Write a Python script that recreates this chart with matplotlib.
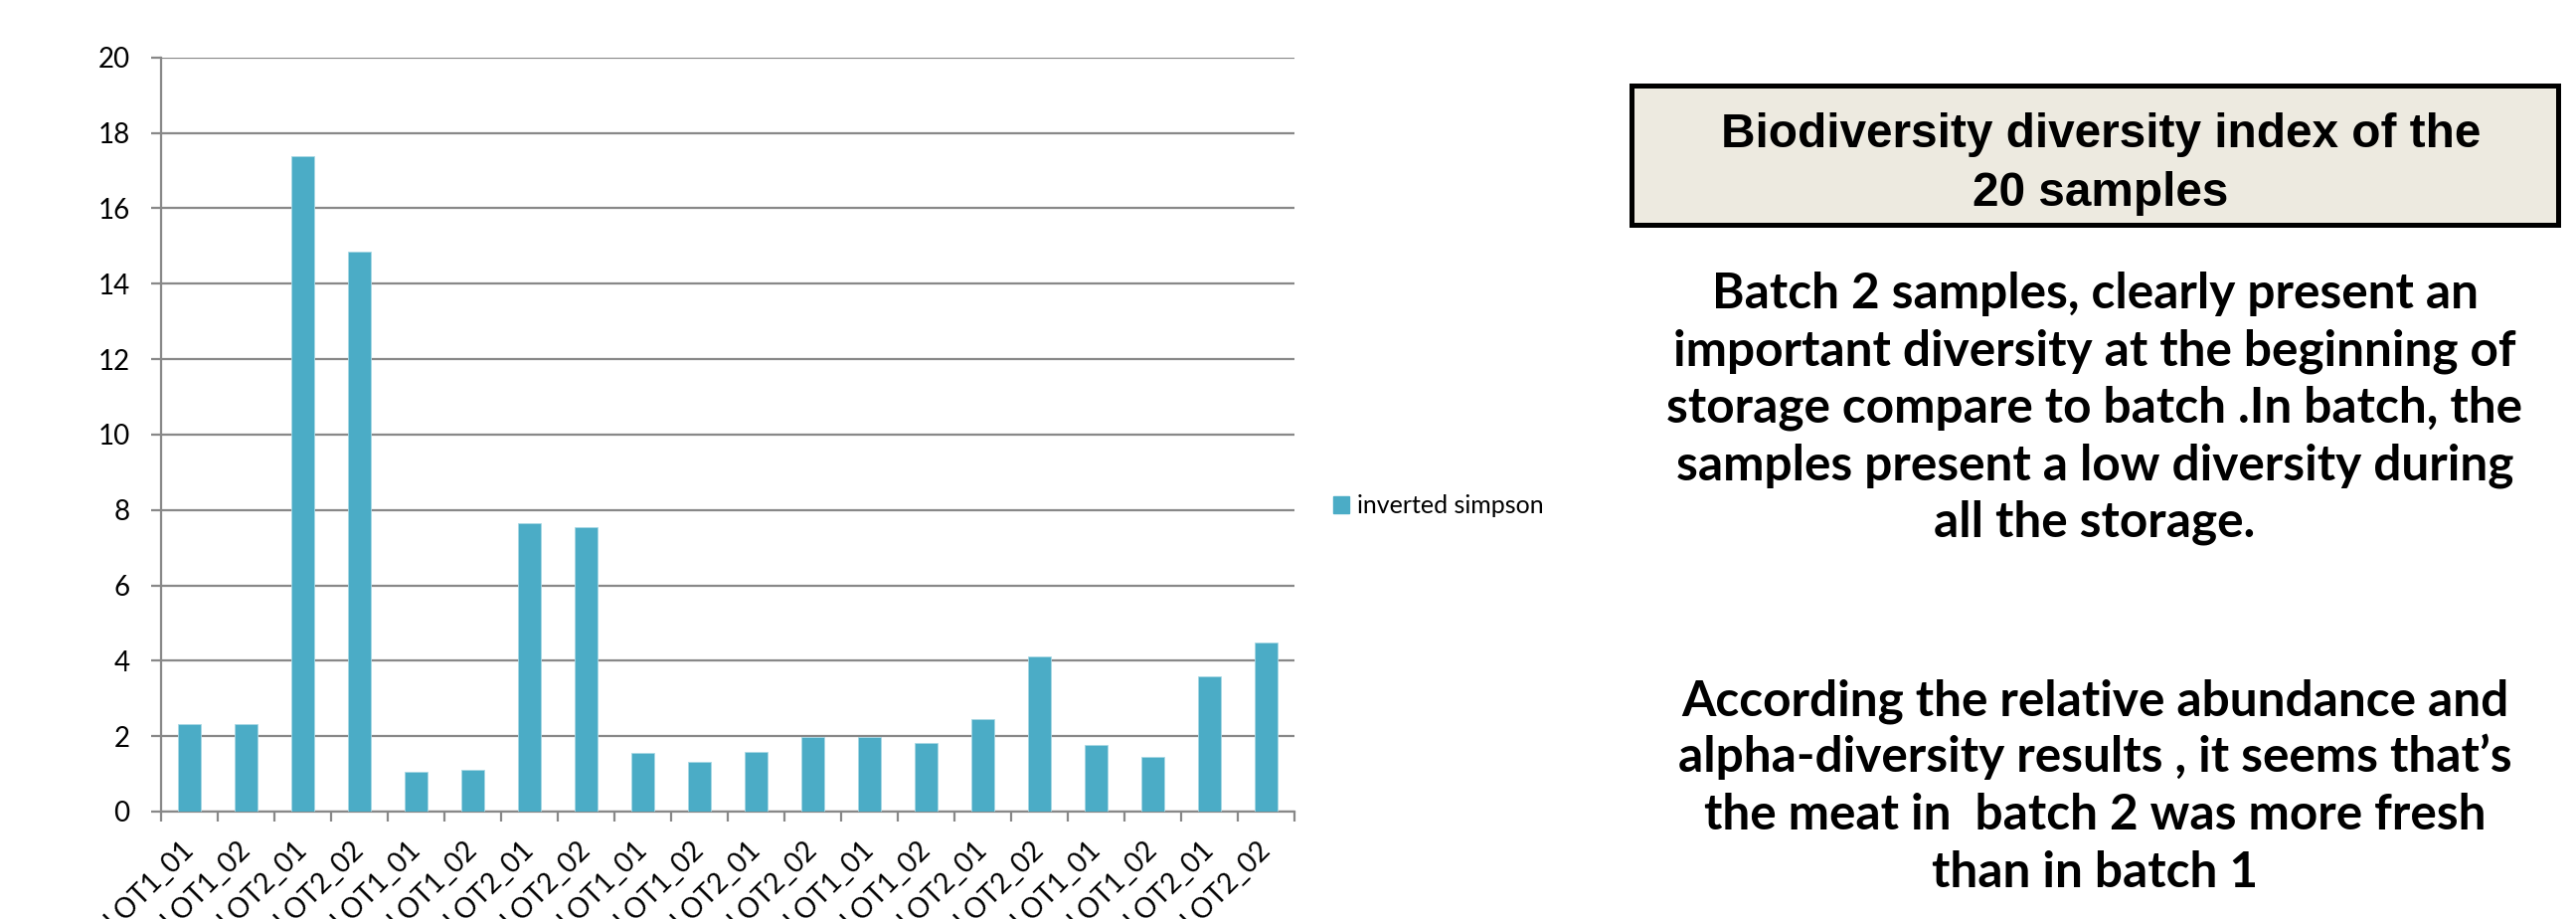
import matplotlib
matplotlib.use('Agg')
import matplotlib.pyplot as plt
from matplotlib.patches import Rectangle, Patch
import numpy as np

# ---------------- data ----------------
samples = ["LOT1_01", "LOT1_02", "LOT2_01", "LOT2_02"] * 5
inverted_simpson = [2.31, 2.31, 17.37, 14.84, 1.06, 1.11, 7.66, 7.55, 1.56, 1.31,
                    1.58, 1.98, 1.99, 1.82, 2.46, 4.12, 1.78, 1.45, 3.60, 4.48]
y_ticks = list(range(0, 21, 2))
series_name = "inverted simpson"

title_lines = ["Biodiversity diversity index of the", "20 samples"]
body_par1 = ["Batch 2 samples, clearly present an",
             "important diversity at the beginning of",
             "storage compare to batch .In batch, the",
             "samples present a low diversity during",
             "all the storage."]
body_par2 = ["According the relative abundance and",
             "alpha-diversity results , it seems that\u2019s",
             "the meat in  batch 2 was more fresh",
             "than in batch 1"]

# ---------------- figure ----------------
plt.rcParams['font.family'] = ['Lato', 'DejaVu Sans']
W, H = 2591, 924
DPI = 100
fig = plt.figure(figsize=(W / DPI, H / DPI), dpi=DPI)
fig.patch.set_facecolor('white')

def fx(px):
    return px / W

def fy(py):
    return 1 - py / H

GRID = '#888888'
BAR = '#4BACC6'

ax = fig.add_axes([fx(161.7), fy(816), fx(1302) - fx(161.7), fy(57.7) - fy(816)])
x = np.arange(len(samples))
ax.bar(x, inverted_simpson, width=0.4, color=BAR, edgecolor='#a8d8e4',
       linewidth=0.6, zorder=3, label=series_name)
ax.set_xlim(-0.5, len(samples) - 0.5)
ax.set_ylim(0, 20)
ax.set_yticks(y_ticks)
ax.yaxis.grid(True, color=GRID, linewidth=1.6, zorder=0)
ax.set_axisbelow(True)
for s in ['top', 'right']:
    ax.spines[s].set_visible(False)
for s in ['left', 'bottom']:
    ax.spines[s].set_color(GRID)
    ax.spines[s].set_linewidth(1.6)
ax.tick_params(axis='y', direction='out', length=7.5, width=1.6, color=GRID,
               labelsize=20, pad=15, labelcolor='black')
ax.set_xticks(x)
ax.set_xticklabels(samples, rotation=45, ha='right', va='center',
                   rotation_mode='anchor', fontsize=20)
ax.tick_params(axis='x', which='major', length=0, pad=24)
ax.set_xticks(np.arange(-0.5, len(samples), 1), minor=True)
ax.tick_params(axis='x', which='minor', direction='out', length=7.5, width=1.6, color=GRID)

fig.legend(handles=[Patch(facecolor=BAR, edgecolor=BAR)], labels=[series_name],
           loc='center left', bbox_to_anchor=(fx(1341), fy(509)), frameon=False,
           fontsize=18, handlelength=0.64, handleheight=0.64, handletextpad=0.33,
           borderpad=0, borderaxespad=0)

# ---------------- right panel ----------------
fig.patches.append(Rectangle((fx(1640.5), fy(225.5)), fx(2572.5) - fx(1640.5),
                             fy(86.5) - fy(225.5), transform=fig.transFigure,
                             facecolor='#EDEAE0', edgecolor='black', linewidth=3.6,
                             zorder=1))

renderer = fig.canvas.get_renderer()

def fit(txt, target_px):
    w = txt.get_window_extent(renderer).width
    txt.set_fontsize(txt.get_fontsize() * target_px / w)
    return txt.get_fontsize()

t_objs = []
for i, line in enumerate(title_lines):
    t = fig.text(fx(2113), fy(148 + i * 59), line, ha='center', va='baseline',
                 family=['Liberation Sans', 'DejaVu Sans'], fontweight='bold',
                 fontsize=35, zorder=2)
    t_objs.append(t)
tsize = fit(t_objs[0], 764)
for t in t_objs:
    t.set_fontsize(tsize)

step = 57.5
b_objs = []
for i, line in enumerate(body_par1):
    t = fig.text(fx(2107), fy(310 + i * step), line, ha='center', va='baseline',
                 fontweight='bold', fontsize=34)
    b_objs.append(t)
for i, line in enumerate(body_par2):
    t = fig.text(fx(2107), fy(719 + i * step), line, ha='center', va='baseline',
                 fontweight='bold', fontsize=34)
    b_objs.append(t)
bsize = fit(b_objs[2], 862)
for t in b_objs:
    t.set_fontsize(bsize)

fig.savefig('out.png', dpi=DPI)
